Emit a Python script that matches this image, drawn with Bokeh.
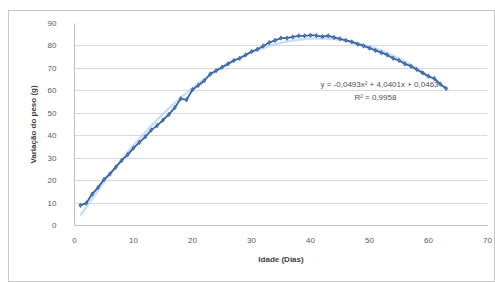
import numpy as np
from bokeh.plotting import figure
from bokeh.models import Range1d, Label, FixedTicker
from bokeh.embed import file_html
from bokeh.resources import INLINE

days = list(range(1, 64))
weight = [9, 10, 14, 17, 20.5, 23, 26, 29, 31.5, 34.5,
          37, 39.5, 42.5, 44.5, 47, 49.5, 52.5, 56.5, 56, 60.5,
          62.5, 64.5, 67.5, 69, 70.5, 72, 73.5, 74.5, 76, 77.5,
          78.5, 80, 81.5, 82.5, 83.5, 83.5, 84, 84.5, 84.5, 84.8,
          84.6, 84.2, 84.5, 83.8, 83.2, 82.5, 81.8, 80.8, 80, 79,
          78, 77, 76, 74.5, 73.5, 72, 71, 69.5, 68, 66.5,
          65.5, 63, 61]
x_ticks = [0, 10, 20, 30, 40, 50, 60, 70]
y_ticks = [0, 10, 20, 30, 40, 50, 60, 70, 80, 90]
equation_text = "y = -0,0493x² + 4,0401x + 0,0463"
r2_text = "R² = 0,9958"
x_title = "Idade (Dias)"
y_title = "Variação do peso (g)"

FONT = "Liberation Sans"

p = figure(width=487, height=272, output_backend="svg", toolbar_location=None,
           x_range=Range1d(0, 70), y_range=Range1d(0, 90),
           min_border_left=65, min_border_right=9, min_border_top=12, min_border_bottom=58)
p.styles = {"border": "1px solid #c8c8c8", "box-sizing": "border-box",
            "margin-left": "8px", "margin-top": "10px"}
p.outline_line_color = None
p.background_fill_color = "white"
p.border_fill_color = "white"

# trendline fitted from the data
coef = np.polyfit(days, weight, 2)
xt = np.array(days, dtype=float)
p.line(xt, np.polyval(coef, xt), line_color="#b4d0ee", line_width=2.5, line_alpha=0.7)

p.line(days, weight, line_color="#3a65a0", line_width=1.8)
p.scatter(days, weight, marker="diamond", size=4.5, fill_color="#4a7ebb",
          line_color="#2f5597", line_width=0.6)

for ax in (p.xaxis, p.yaxis):
    ax.axis_line_color = "#bfbfbf"
    ax.major_tick_line_color = None
    ax.minor_tick_line_color = None
    ax.major_label_text_font = FONT
    ax.major_label_text_font_size = "8px"
    ax.major_label_text_color = "#595959"
    ax.axis_label_text_font = FONT
    ax.axis_label_text_font_size = "8px"
    ax.axis_label_text_font_style = "bold"
    ax.axis_label_text_color = "#404040"

p.xaxis.ticker = FixedTicker(ticks=x_ticks)
p.yaxis.ticker = FixedTicker(ticks=y_ticks)
p.xaxis.major_label_standoff = 6
p.yaxis.major_label_standoff = 12
p.xaxis.axis_label = x_title
p.yaxis.axis_label = y_title
p.xaxis.axis_label_standoff = 9
p.yaxis.axis_label_standoff = 7

p.xgrid.grid_line_color = None
p.ygrid.grid_line_color = "#d9d9d9"
p.ygrid.ticker = FixedTicker(ticks=y_ticks)

p.add_layout(Label(x=51.7, y=62.8, text=equation_text, text_align="center",
                   text_baseline="middle", text_font=FONT, text_font_size="8px",
                   text_color="#505050"))
p.add_layout(Label(x=51.0, y=57.0, text=r2_text, text_align="center",
                   text_baseline="middle", text_font=FONT, text_font_size="8px",
                   text_color="#505050"))

open("out.html", "w").write(file_html(p, INLINE))
